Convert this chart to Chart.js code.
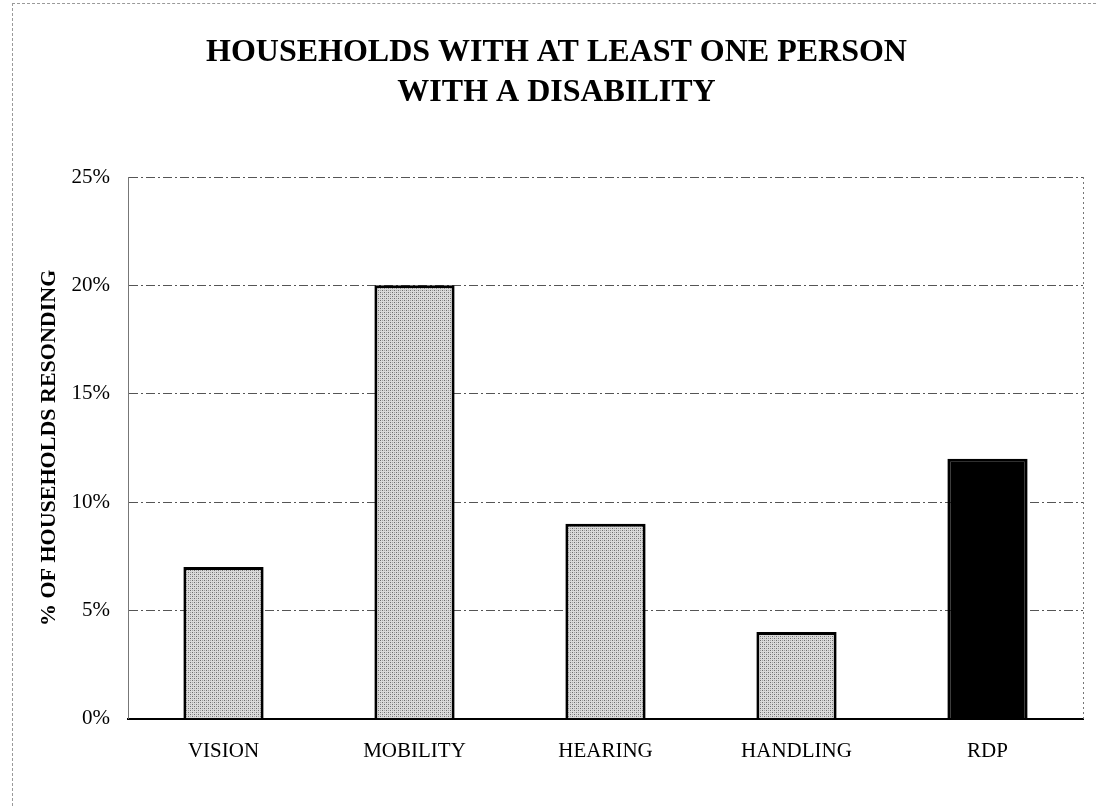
<!DOCTYPE html>
<html lang="en">
<head>
<meta charset="UTF-8">
<title>Households with at least one person with a disability</title>
<script src="https://cdn.jsdelivr.net/npm/chart.js@4"></script>
<style>
  html, body {
    margin: 0;
    padding: 0;
    background: #fff;
  }
  .page {
    position: relative;
    width: 1096px;
    height: 806px;
  }
  .scan-edge {
    position: absolute;
    left: 12px;
    top: 3px;
    right: 0;
    bottom: 0;
    border-top: 1px dashed #9a9a9a;
    border-left: 1px dashed #9a9a9a;
    pointer-events: none;
  }
  canvas {
    position: absolute;
    left: 0;
    top: 0;
  }
</style>
</head>
<body>
<div class="page">
  <div class="scan-edge"></div>
  <canvas id="chart" width="1096" height="806"></canvas>
</div>
<script>
// Chart data
const categories = ["VISION", "MOBILITY", "HEARING", "HANDLING", "RDP"];
const percentValues = [7, 20, 9, 4, 12];
const yTicks = [0, 5, 10, 15, 20, 25];
const titleLines = ["HOUSEHOLDS WITH AT LEAST ONE PERSON", "WITH A DISABILITY"];
const yAxisTitle = "% OF HOUSEHOLDS RESONDING";

const serif = "'Liberation Serif', 'Times New Roman', serif";

// stippled grey fill, like the halftone in the scan
function makeStipple() {
  const c = document.createElement("canvas");
  c.width = 4;
  c.height = 4;
  const g = c.getContext("2d");
  g.fillStyle = "#dadada";
  g.fillRect(0, 0, 4, 4);
  g.fillStyle = "#6e6e6e";
  g.fillRect(0, 0, 1, 1);
  g.fillRect(2, 2, 1, 1);
  g.fillStyle = "#a4a4a4";
  g.fillRect(2, 0, 1, 1);
  g.fillRect(0, 2, 1, 1);
  return g.createPattern(c, "repeat");
}
const stipple = makeStipple();

// dotted right edge of the plot frame
const frameRight = {
  id: "frameRight",
  afterDraw(chart) {
    const { ctx, chartArea } = chart;
    ctx.save();
    ctx.strokeStyle = "#777";
    ctx.lineWidth = 1;
    ctx.setLineDash([2, 3]);
    ctx.beginPath();
    ctx.moveTo(chartArea.right + 0.5, chartArea.top);
    ctx.lineTo(chartArea.right + 0.5, chartArea.bottom);
    ctx.stroke();
    ctx.restore();
  }
};

new Chart(document.getElementById("chart"), {
  type: "bar",
  data: {
    labels: categories,
    datasets: [{
      data: percentValues,
      backgroundColor: categories.map((c) => (c === "RDP" ? "#000" : stipple)),
      borderColor: "#000",
      borderWidth: 3,
      barPercentage: 0.42,
      categoryPercentage: 1
    }]
  },
  options: {
    responsive: false,
    animation: false,
    layout: {
      padding: { left: 30, right: 13, top: 0, bottom: 22 }
    },
    plugins: {
      legend: { display: false },
      tooltip: { enabled: false },
      title: {
        display: true,
        text: titleLines,
        color: "#000",
        font: { family: serif, size: 32, weight: "bold", lineHeight: 1.25 },
        padding: { top: 33, bottom: 64 }
      }
    },
    scales: {
      x: {
        grid: { display: false, drawTicks: false },
        border: { display: true, color: "#000", width: 2 },
        ticks: {
          color: "#000",
          font: { family: serif, size: 21 },
          padding: 20,
          maxRotation: 0
        }
      },
      y: {
        min: 0,
        max: 25,
        afterBuildTicks(scale) {
          scale.ticks = yTicks.map((v) => ({ value: v }));
        },
        afterFit(scale) {
          scale.width = 98;
        },
        grid: {
          color: "#555",
          lineWidth: 1,
          drawTicks: false
        },
        border: { display: true, color: "#777", width: 1, dash: [9, 3, 2, 3] },
        ticks: {
          color: "#000",
          font: { family: serif, size: 21 },
          padding: 18,
          callback: (v) => v + "%"
        },
        title: {
          display: true,
          text: yAxisTitle,
          color: "#000",
          font: { family: serif, size: 22, weight: "bold" },
          padding: { top: 6, bottom: 0 }
        }
      }
    }
  },
  plugins: [frameRight]
});
</script>
</body>
</html>
